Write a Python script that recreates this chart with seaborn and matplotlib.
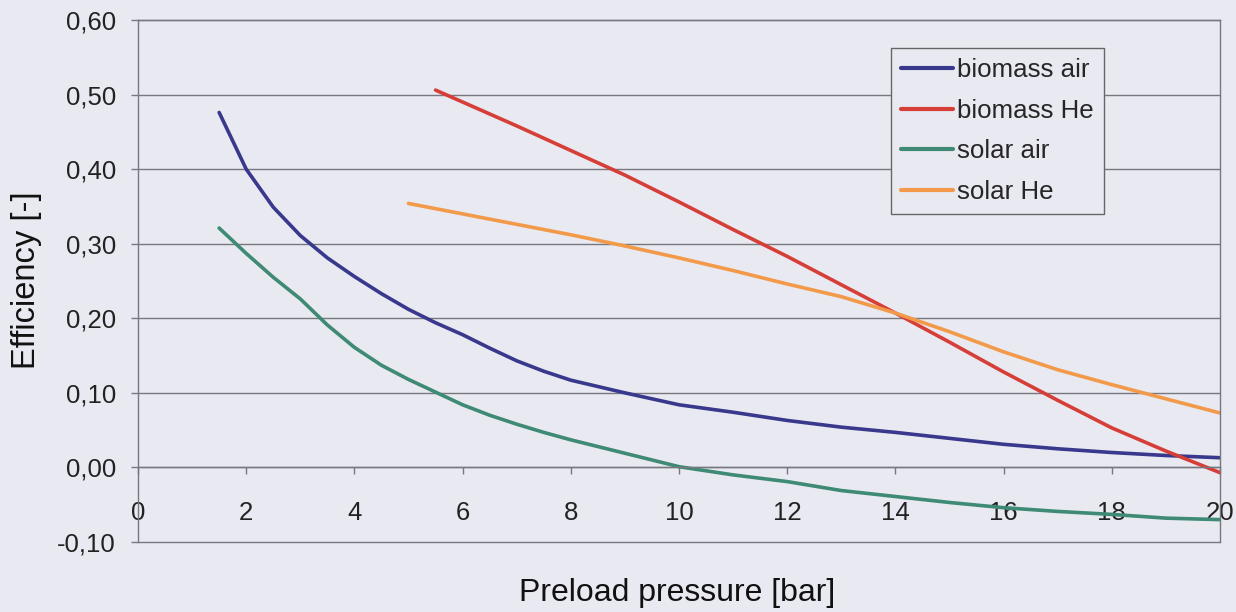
import numpy as np
import pandas as pd
import matplotlib
matplotlib.use("Agg")
import matplotlib.pyplot as plt
import seaborn as sns
from matplotlib.ticker import FuncFormatter

# ---- data ----
x_air = [1.5, 2, 2.5, 3, 3.5, 4, 4.5, 5, 5.5, 6, 6.5, 7, 7.5, 8, 9, 10, 11, 12, 13, 14, 15, 16, 17, 18, 19, 20]
biomass_air = [0.476, 0.400, 0.349, 0.311, 0.281, 0.256, 0.233, 0.212, 0.194, 0.178, 0.160, 0.143, 0.129,
               0.117, 0.100, 0.084, 0.074, 0.063, 0.054, 0.047, 0.039, 0.031, 0.025, 0.020, 0.016, 0.013]
solar_air = [0.321, 0.287, 0.255, 0.226, 0.191, 0.161, 0.137, 0.118, 0.101, 0.084, 0.070, 0.058, 0.047,
             0.037, 0.019, 0.001, -0.010, -0.019, -0.031, -0.039, -0.047, -0.054, -0.059, -0.063,
             -0.068, -0.070]
x_bio_he = [5.5, 6, 7, 8, 9, 10, 11, 12, 13, 14, 15, 16, 17, 18, 19, 20]
biomass_he = [0.506, 0.490, 0.458, 0.425, 0.392, 0.356, 0.319, 0.283, 0.245, 0.207, 0.168, 0.128,
              0.090, 0.053, 0.022, -0.007]
x_sol_he = [5, 6, 7, 8, 9, 10, 11, 12, 13, 14, 15, 16, 17, 18, 19, 20]
solar_he = [0.354, 0.340, 0.326, 0.312, 0.297, 0.281, 0.264, 0.246, 0.229, 0.207, 0.182, 0.155,
            0.131, 0.111, 0.092, 0.073]

series_names = ["biomass air", "biomass He", "solar air", "solar He"]
series_colors = ["#38388c", "#d63f38", "#3f8a74", "#f29a4a"]
x_ticks = [0, 2, 4, 6, 8, 10, 12, 14, 16, 18, 20]
y_ticks = [-0.10, 0.00, 0.10, 0.20, 0.30, 0.40, 0.50, 0.60]
x_label = "Preload pressure [bar]"
y_label = "Efficiency [-]"

frames = [
    pd.DataFrame({"x": x_air, "y": biomass_air, "series": series_names[0]}),
    pd.DataFrame({"x": x_bio_he, "y": biomass_he, "series": series_names[1]}),
    pd.DataFrame({"x": x_air, "y": solar_air, "series": series_names[2]}),
    pd.DataFrame({"x": x_sol_he, "y": solar_he, "series": series_names[3]}),
]
df = pd.concat(frames, ignore_index=True)

# ---- style ----
bg = "#e9e9f2"
grid_c = "#77777f"
sns.set_theme(style="white")
plt.rcParams["font.family"] = ["Liberation Sans", "DejaVu Sans"]

fig = plt.figure(figsize=(12.36, 6.12), dpi=100, facecolor=bg)
ax = fig.add_axes([138 / 1236, 1 - 542 / 612, (1220 - 138) / 1236, (542 - 20) / 612])
ax.set_facecolor(bg)

sns.lineplot(data=df, x="x", y="y", hue="series", hue_order=series_names,
             palette=dict(zip(series_names, series_colors)), linewidth=2.6,
             estimator=None, sort=False, ax=ax, legend=True)

ax.set_xlim(0, 20)
ax.set_ylim(-0.10, 0.60)
ax.set_xticks(x_ticks)
ax.set_yticks(y_ticks)
ax.yaxis.set_major_formatter(FuncFormatter(lambda v, p: f"{v:.2f}".replace(".", ",").replace("-0,00", "0,00")))
ax.grid(axis="y", color=grid_c, linewidth=1.0)
for gl in ax.get_ygridlines():
    gl.set_clip_on(False)
ax.set_axisbelow(True)

for s in ["top", "right", "left", "bottom"]:
    ax.spines[s].set_visible(True)
    ax.spines[s].set_color(grid_c)
    ax.spines[s].set_linewidth(1.0)
ax.spines["bottom"].set_position(("data", 0))

ax.tick_params(axis="y", direction="out", length=5, width=1, color=grid_c,
               labelsize=18.5, labelcolor="#222222", pad=11, left=True)
ax.tick_params(axis="x", direction="out", length=5, width=1, color=grid_c,
               labelsize=18.5, labelcolor="#222222", pad=19, bottom=True)

ax.set_xlabel(x_label, fontsize=23, color="#111111")
ax.set_ylabel(y_label, fontsize=23.5, color="#111111")
ax.xaxis.set_label_coords(0.498, -0.069)
ax.yaxis.set_label_coords(-0.0887, 0.502)

leg = ax.legend(loc="upper left", bbox_to_anchor=(891 / 1236, 1 - 48 / 612),
                bbox_transform=fig.transFigure, fontsize=18.6, frameon=True,
                fancybox=False, edgecolor="#666666", facecolor=bg, framealpha=1,
                handlelength=2.0, handletextpad=0.15, labelspacing=0.64,
                borderpad=0.4, borderaxespad=0)
for line in leg.get_lines():
    line.set_linewidth(3)
leg.get_frame().set_linewidth(1.0)

fig.savefig("out.png", dpi=100, facecolor=bg)
